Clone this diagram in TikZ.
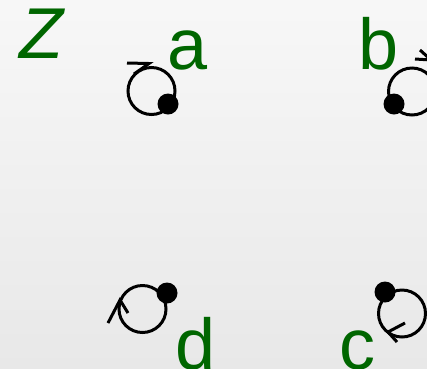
\documentclass[tikz,border=0pt]{standalone}
\usepackage{fontspec}
\setmainfont{Liberation Sans}
\definecolor{lblgreen}{RGB}{0,102,0}
\begin{document}
\begin{tikzpicture}[x=1pt,y=-1pt,
  vertex/.style={circle,fill=black,inner sep=0pt,minimum size=21pt},
  loopline/.style={line width=3pt,draw=black},
  tipline/.style={line width=3pt,line cap=butt,line join=miter},
  lbl/.style={text=lblgreen,anchor=base west,inner sep=0pt,font=\fontsize{72}{72}\selectfont}]
\useasboundingbox (0,0) rectangle (427,368);
\clip (0,0) rectangle (427,368);
\shade[top color=black!3,bottom color=black!9] (0,0) rectangle (427,368);
% loop centres
\coordinate (ca) at (151.5,91);
\coordinate (cb) at (412,91.5);
\coordinate (cc) at (402,313.5);
\coordinate (cd) at (142.5,309);
% loops
\draw[loopline] (ca) circle[radius=23.5];
\draw[loopline] (cb) circle[radius=23.5];
\draw[loopline] (cc) circle[radius=23.5];
\draw[loopline] (cd) circle[radius=23.5];
% arrow heads
\draw[tipline] (127,63) -- (149,63.5) -- (134,74);
\draw[tipline] (415,59) -- (431,60) -- (420,50);
\draw[tipline] (397,342) -- (388,332) -- (405,323);
\draw[tipline] (108,323) -- (120,300) -- (128,313);
% vertices
\node[vertex] (a) at (168,104) {};
\node[vertex] (b) at (394,104) {};
\node[vertex] (c) at (385,292) {};
\node[vertex] (d) at (167,293) {};
% labels
\node[lbl] (Z) at (19,58) {\itshape Z};
\node[lbl] (la) at (167,69) {a};
\node[lbl] (lb) at (358,69) {b};
\node[lbl] (lc) at (339,369) {c};
\node[lbl] (ld) at (175.5,369) {d};
\end{tikzpicture}
\end{document}
